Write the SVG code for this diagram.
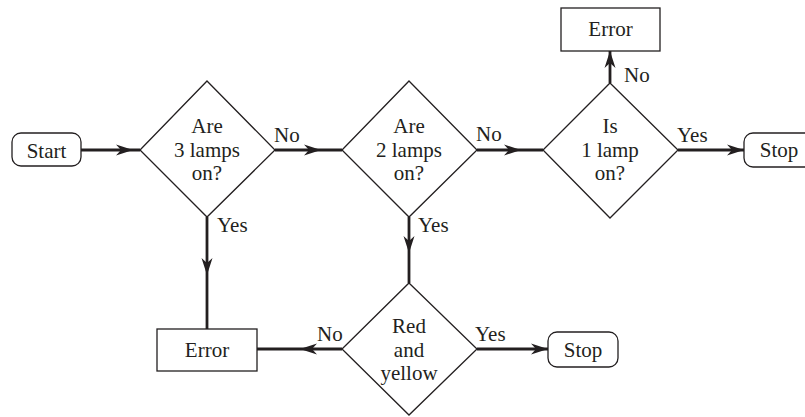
<svg xmlns="http://www.w3.org/2000/svg" width="805" height="417" viewBox="0 0 805 417">
  <style>
    .shape { fill: #ffffff; stroke: #231f20; stroke-width: 1.3; }
    .flow { fill: none; stroke: #231f20; stroke-width: 2.8; }
    text { font-family: "Liberation Serif", "Times New Roman", serif; font-size: 21px; fill: #231f20; }
    .c { text-anchor: middle; }
  </style>
  <defs>
    <marker id="arrow" viewBox="-18 -7 20 14" refX="0" refY="0" markerWidth="20" markerHeight="14" markerUnits="userSpaceOnUse" orient="auto">
      <path d="M0,0 L-17,-5.5 L-12,0 L-17,5.5 Z" fill="#231f20"/>
    </marker>
  </defs>

  <g id="connectors">
    <path class="flow" d="M81,150 L133,150 L140,150" marker-mid="url(#arrow)"/>
    <path class="flow" d="M275,150 L321,150 L342,150" marker-mid="url(#arrow)"/>
    <path class="flow" d="M477,150 L521,150 L543,150" marker-mid="url(#arrow)"/>
    <path class="flow" d="M678,150 L744,150" marker-end="url(#arrow)"/>
    <path class="flow" d="M610,83 L610,51" marker-end="url(#arrow)"/>
    <path class="flow" d="M207,217 L207,275 L207,329" marker-mid="url(#arrow)"/>
    <path class="flow" d="M409,217 L409,253 L409,283" marker-mid="url(#arrow)"/>
    <path class="flow" d="M342,349 L300,349 L257,349" marker-mid="url(#arrow)"/>
    <path class="flow" d="M477,349 L548,349" marker-end="url(#arrow)"/>
    <text x="274" y="142">No</text>
    <text x="217" y="232">Yes</text>
    <text x="476" y="141">No</text>
    <text x="418" y="232">Yes</text>
    <text x="624" y="82">No</text>
    <text x="677" y="142">Yes</text>
    <text x="317" y="341">No</text>
    <text x="475" y="341">Yes</text>
  </g>

  <g id="start">
    <rect class="shape" x="12" y="133" width="69" height="33" rx="9"/>
    <text class="c" x="46.5" y="158">Start</text>
  </g>

  <g id="three-lamps">
    <polygon class="shape" points="207,81 275,150 207,217 140,150"/>
    <text class="c" x="207" y="133">Are</text>
    <text class="c" x="207" y="157">3 lamps</text>
    <text class="c" x="207" y="180">on?</text>
  </g>

  <g id="two-lamps">
    <polygon class="shape" points="409,81 477,150 409,217 342,150"/>
    <text class="c" x="409" y="133">Are</text>
    <text class="c" x="409" y="157">2 lamps</text>
    <text class="c" x="409" y="180">on?</text>
  </g>

  <g id="one-lamp">
    <polygon class="shape" points="610,83 678,150 610,218 543,150"/>
    <text class="c" x="610" y="133">Is</text>
    <text class="c" x="610" y="157">1 lamp</text>
    <text class="c" x="610" y="180">on?</text>
  </g>

  <g id="error-top">
    <rect class="shape" x="561" y="8" width="99" height="43"/>
    <text class="c" x="610.5" y="36">Error</text>
  </g>

  <g id="stop-right">
    <rect class="shape" x="744" y="133" width="70" height="34" rx="9"/>
    <text class="c" x="779" y="157">Stop</text>
  </g>

  <g id="red-yellow">
    <polygon class="shape" points="409,283 477,349 409,415 342,349"/>
    <text class="c" x="409" y="333">Red</text>
    <text class="c" x="409" y="357">and</text>
    <text class="c" x="409" y="380">yellow</text>
  </g>

  <g id="error-bottom">
    <rect class="shape" x="157" y="329" width="100" height="42"/>
    <text class="c" x="207" y="357">Error</text>
  </g>

  <g id="stop-bottom">
    <rect class="shape" x="548" y="332" width="70" height="35" rx="9"/>
    <text class="c" x="583" y="357">Stop</text>
  </g>
</svg>
